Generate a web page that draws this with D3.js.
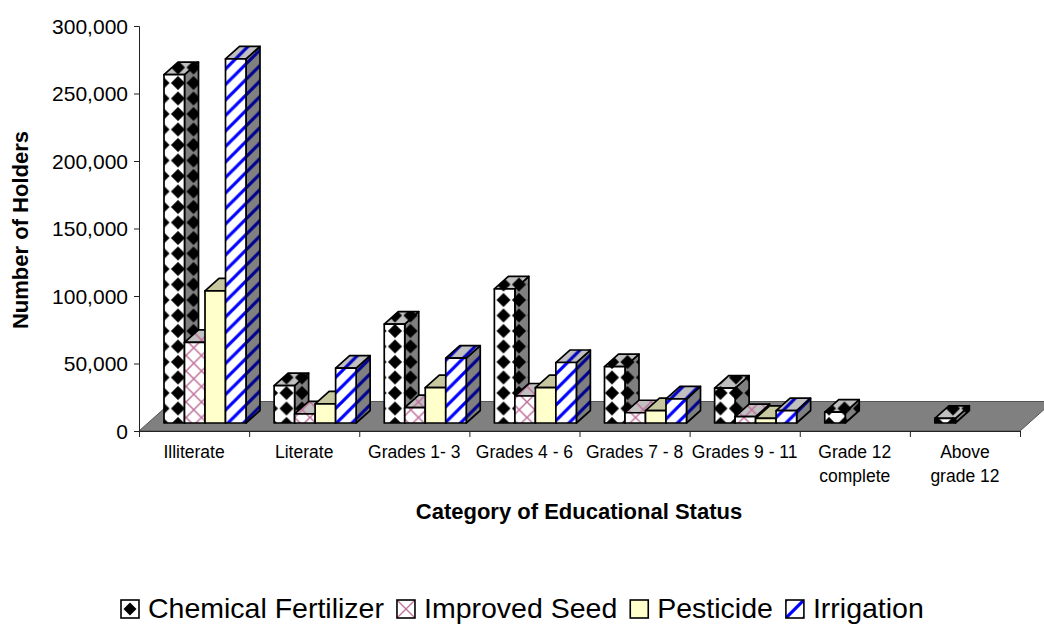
<!DOCTYPE html>
<html>
<head>
<meta charset="utf-8">
<script src="https://cdnjs.cloudflare.com/ajax/libs/d3/7.8.5/d3.min.js"></script>
<style>
body { margin: 0; background: #fff; }
svg { display: block; font-family: "Liberation Sans", Arial, sans-serif; }
</style>
</head>
<body>
<svg width="1044" height="624"></svg>
<script>
// Chart data
var categories = [
    ["Illiterate"], ["Literate"], ["Grades 1- 3"], ["Grades 4 - 6"],
    ["Grades 7 - 8"], ["Grades 9 - 11"], ["Grade 12", "complete"], ["Above", "grade 12"]
];
var seriesNames = ["Chemical Fertilizer", "Improved Seed", "Pesticide", "Irrigation"];
var chemical = [258000, 27700, 73300, 99300, 41800, 25800, 8000, 3500];
var seed = [59700, 6700, 11400, 20000, 7600, 4700, 0, 0];
var pesticide = [97800, 14100, 26200, 26200, 9100, 3500, 0, 0];
var irrigation = [269700, 40600, 48000, 44800, 17800, 9100, 0, 0];
var seriesValues = [chemical, seed, pesticide, irrigation];
var yTicks = [0, 50000, 100000, 150000, 200000, 250000, 300000];

var svg = d3.select("svg");
var defs = svg.append("defs");

// Scales
var y = d3.scaleLinear().domain([0, 300000]).range([431, 26]);
var catX = d3.scaleLinear().domain([0, 8]).range([139, 1020]);
var seriesX = d3.scaleBand().domain(d3.range(4)).range([25, 107]);

var depthX = 14, depthY = 12.5, lift = 8;  // 3d offset of the bars
var tile = 15.5;

// Fill patterns, one per face
function newPattern(id, x, y0, size, bg) {
    var p = defs.append("pattern").attr("id", id).attr("patternUnits", "userSpaceOnUse")
        .attr("x", x).attr("y", y0).attr("width", size).attr("height", size);
    p.append("rect").attr("width", size).attr("height", size).attr("fill", bg);
    return p;
}
function diamonds(id, bg, x, y0, size, r) {
    var p = newPattern(id, x, y0, size, bg);
    var c = size / 2;
    p.append("path").attr("fill", "#000")
        .attr("d", "M" + c + "," + (c - r) + "L" + (c + r) + "," + c + "L" + c + "," + (c + r) + "L" + (c - r) + "," + c + "Z");
}
function lattice(id, bg, fg, x, y0, size, w) {
    var p = newPattern(id, x, y0, size, bg);
    p.append("path").attr("fill", "none").attr("stroke", fg).attr("stroke-width", w)
        .attr("d", "M0,0L" + size + "," + size + "M" + size + ",0L0," + size);
}
function stripes(id, bg, fg, x, y0, size, w) {
    var p = newPattern(id, x, y0, size, bg);
    p.append("path").attr("fill", "none").attr("stroke", fg).attr("stroke-width", w)
        .attr("d", "M-3,3L3,-3M0," + size + "L" + size + ",0M" + (size - 3) + "," + (size + 3) + "L" + (size + 3) + "," + (size - 3));
}
diamonds("chem-front", "#fff", 170.25, 75.25, tile, 7);
diamonds("chem-side", "#808080", 170.25, 75.25, tile, 7);
diamonds("chem-top", "#c0c0c0", 170.25, 75.25, tile, 7);
lattice("seed-front", "#fff", "#c0709a", 186, 340, tile, 1.5);
lattice("seed-side", "#808080", "#804d66", 186, 340, tile, 1.5);
lattice("seed-top", "#c0c0c0", "#c0709a", 186, 340, tile, 1.5);
stripes("irr-front", "#fff", "#0000ff", 0, 0, tile, 3.2);
stripes("irr-side", "#808080", "#000090", 0, 0, tile, 3.2);
stripes("irr-top", "#c0c0c0", "#0000c0", 0, 0, tile, 3.2);

var faces = [
    {front: "url(#chem-front)", side: "url(#chem-side)", top: "url(#chem-top)"},
    {front: "url(#seed-front)", side: "url(#seed-side)", top: "url(#seed-top)"},
    {front: "#ffffcc", side: "#808066", top: "#c8c8a0"},
    {front: "url(#irr-front)", side: "url(#irr-side)", top: "url(#irr-top)"}
];

// Floor
var floorDx = 33, floorDy = 29.5;
svg.append("path")
    .attr("d", "M139,431L" + (139 + floorDx) + "," + (431 - floorDy) + "L" + (1020 + floorDx) + "," + (431 - floorDy) + "L1020,431Z")
    .attr("fill", "#808080")
    .attr("stroke", "#555")
    .attr("stroke-width", 1);

// Axes
var yAxis = d3.axisLeft(y).tickValues(yTicks).tickSize(5).tickFormat(d3.format(","));
var xAxis = d3.axisBottom(catX).ticks(8).tickSize(6).tickFormat("");

var gy = svg.append("g").attr("transform", "translate(139,0)").call(yAxis);
var gx = svg.append("g").attr("transform", "translate(0,431)").call(xAxis);
gy.selectAll("text").attr("font-size", 21).attr("font-family", "Liberation Sans").attr("fill", "#000").attr("dy", "0.35em").attr("x", -11);
svg.selectAll(".domain, .tick line").attr("stroke", "#222");

// Bars, left to right so each one hides the side of the one before
categories.forEach(function (d, i) {
    seriesValues.forEach(function (values, s) {
        if (!values[i]) return;
        var x0 = catX(i) + seriesX(s), x1 = x0 + seriesX.bandwidth();
        var top = y(values[i]) - lift, bottom = y(0) - lift;
        var bar = svg.append("g").attr("stroke", "#000").attr("stroke-width", 1.7).attr("stroke-linejoin", "round");
        bar.append("path")
            .attr("fill", faces[s].side)
            .attr("d", "M" + x1 + "," + top + "L" + (x1 + depthX) + "," + (top - depthY) + "L" + (x1 + depthX) + "," + (bottom - depthY) + "L" + x1 + "," + bottom + "Z");
        bar.append("path")
            .attr("fill", faces[s].top)
            .attr("d", "M" + x0 + "," + top + "L" + (x0 + depthX) + "," + (top - depthY) + "L" + (x1 + depthX) + "," + (top - depthY) + "L" + x1 + "," + top + "Z");
        bar.append("rect")
            .attr("x", x0).attr("y", top)
            .attr("width", x1 - x0).attr("height", bottom - top)
            .attr("fill", faces[s].front);
    });
});

// Category labels
var labels = svg.selectAll("text.cat")
    .data(categories)
    .enter()
    .append("text")
    .attr("class", "cat")
    .attr("text-anchor", "middle")
    .attr("font-size", 17.5)
    .attr("fill", "#000");
labels.each(function (d, i) {
    var t = d3.select(this);
    d.forEach(function (line, k) {
        t.append("tspan")
            .attr("x", (catX(i) + catX(i + 1)) / 2)
            .attr("y", 458 + k * 24)
            .text(line);
    });
});

// Axis titles
svg.append("text")
    .attr("transform", "translate(28,230) rotate(-90)")
    .attr("text-anchor", "middle")
    .attr("font-size", 22)
    .attr("font-weight", "bold")
    .text("Number of Holders");
svg.append("text")
    .attr("x", 579).attr("y", 519)
    .attr("text-anchor", "middle")
    .attr("font-size", 22)
    .attr("font-weight", "bold")
    .text("Category of Educational Status");

// Legend
var legendSize = 18, legendY = 600;
var legendX = 121;
seriesNames.forEach(function (name, s) {
    var g = svg.append("g");
    var fill = faces[s].front;
    if (s === 0) { diamonds("leg-chem", "#fff", legendX, legendY, legendSize, 6.5); fill = "url(#leg-chem)"; }
    if (s === 1) { lattice("leg-seed", "#fff", "#c0709a", legendX, legendY, legendSize, 1.3); fill = "url(#leg-seed)"; }
    if (s === 3) { stripes("leg-irr", "#fff", "#0000ff", legendX, legendY, legendSize, 3.2); fill = "url(#leg-irr)"; }
    g.append("rect")
        .attr("x", legendX).attr("y", legendY).attr("width", legendSize).attr("height", legendSize)
        .attr("fill", fill).attr("stroke", "#000").attr("stroke-width", 1.6);
    var t = g.append("text")
        .attr("x", legendX + legendSize + 9).attr("y", 618)
        .attr("font-size", 28.5)
        .text(name);
    legendX += legendSize + 9 + t.node().getComputedTextLength() + 13;
});
</script>
</body>
</html>
